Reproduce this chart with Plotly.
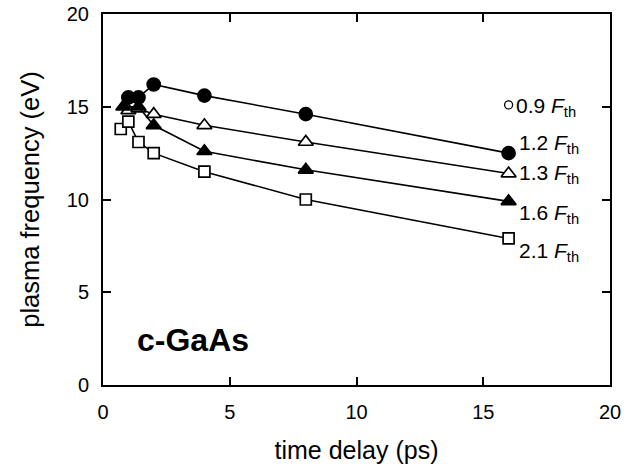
import plotly.graph_objects as go

# data (time delay in ps, plasma frequency in eV)
x_12 = [1.0, 1.4, 2.0, 4.0, 8.0, 16.0]
y_12 = [15.5, 15.5, 16.2, 15.6, 14.6, 12.5]

x_13 = [1.0, 1.4, 2.0, 4.0, 8.0, 16.0]
y_13 = [14.8, 14.9, 14.6, 14.0, 13.1, 11.4]

x_16 = [0.8, 1.4, 2.0, 4.0, 8.0, 16.0]
y_16 = [15.0, 15.0, 14.0, 12.6, 11.6, 9.9]

x_21 = [0.7, 1.0, 1.4, 2.0, 4.0, 8.0, 16.0]
y_21 = [13.8, 14.2, 13.1, 12.5, 11.5, 10.0, 7.9]

x_09 = [16.0]
y_09 = [15.1]

labels = ["0.9", "1.2", "1.3", "1.6", "2.1"]
label_y = [15.1, 12.9, 11.25, 9.1, 7.05]

FONT = "Liberation Sans, Arial, Helvetica, sans-serif"

fig = go.Figure()

def add(x, y, symbol, fill, size):
    fig.add_trace(go.Scatter(
        x=x, y=y, mode="lines+markers",
        line=dict(color="black", width=1.6),
        marker=dict(symbol=symbol, size=size, color=fill,
                    line=dict(color="black", width=1.7)),
        showlegend=False, cliponaxis=False))

add(x_13, y_13, "triangle-up", "white", 13)
add(x_16, y_16, "triangle-up", "black", 13)
add(x_12, y_12, "circle", "black", 13)
add(x_21, y_21, "square", "white", 11)

fig.add_trace(go.Scatter(
    x=x_09, y=y_09, mode="markers",
    marker=dict(symbol="circle", size=8, color="white",
                line=dict(color="black", width=1.3)),
    showlegend=False, cliponaxis=False))

for i, (lab, ly) in enumerate(zip(labels, label_y)):
    fig.add_annotation(
        x=16, y=ly, xref="x", yref="y",
        text=f"{lab} <i>F</i><sub>th</sub>",
        showarrow=False, xanchor="left", yanchor="middle",
        xshift=5 if i == 0 else 8, yshift=-2 if i == 0 else 2,
        font=dict(family=FONT, size=21, color="black"))

fig.add_annotation(
    x=1.25, y=2.4, xref="x", yref="y", text="<b>c-GaAs</b>",
    showarrow=False, xanchor="left", yanchor="middle",
    font=dict(family=FONT, size=32, color="black"))

axis_common = dict(
    range=[0, 20], dtick=5, showline=True, linecolor="black", linewidth=2,
    mirror="ticks", ticks="inside", ticklen=8, tickwidth=2, tickcolor="black",
    showgrid=False, zeroline=False, ticklabelstandoff=8, automargin=False,
    tickfont=dict(family=FONT, size=20, color="black"))

fig.update_xaxes(**axis_common,
                 title=dict(text="time delay (ps)", standoff=19,
                            font=dict(family=FONT, size=25, color="black")))
fig.update_yaxes(**axis_common,
                 title=dict(text="plasma frequency (eV)", standoff=20,
                            font=dict(family=FONT, size=25.5, color="black")))

fig.update_layout(
    width=641, height=474,
    margin=dict(l=103, r=31, t=14, b=89),
    plot_bgcolor="white", paper_bgcolor="white",
    font=dict(family=FONT, color="black"))

fig.write_html("out.html")
